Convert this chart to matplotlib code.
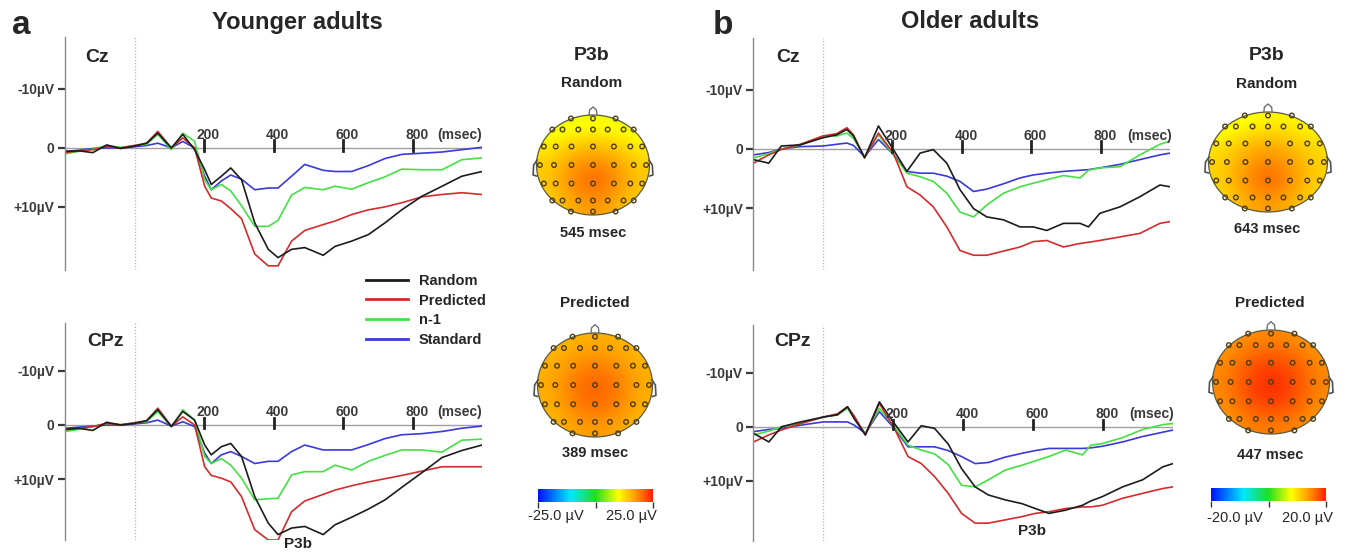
import matplotlib
matplotlib.use("Agg")
import matplotlib.pyplot as plt
import numpy as np
from matplotlib.colors import LinearSegmentedColormap, Normalize
from matplotlib.cm import ScalarMappable
from matplotlib.patches import Circle
from matplotlib.lines import Line2D

plt.rcParams["font.family"] = ["Liberation Sans", "DejaVu Sans"]

W, H = 1351, 553

# ---- ERP waveforms (ms, µV; positive plotted downward) ----
t_young = [-200, -160, -120, -80, -40, 0, 35, 67, 106, 139, 173, 202, 221, 250, 277,
           308, 346, 385, 413, 452, 490, 543, 577, 625, 673, 721, 769, 827, 885, 942, 1000]
young_cz_random = [0.6, 0.5, 0.8, -0.5, 0.1, -0.3, -0.8, -2.5, 0.0, -2.3, 0.3, 3.7, 6.2, 4.8, 3.4,
                   5.4, 12.7, 17.2, 18.6, 17.2, 16.9, 18.2, 16.7, 15.8, 14.7, 12.7, 10.5, 8.2, 6.5, 4.8, 4.0]
young_cz_predicted = [0.8, 0.5, 0.3, -0.2, 0.0, -0.4, -0.8, -2.8, 0.0, -1.7, 0.0, 6.5, 8.5, 9.0, 10.3,
                      12.0, 18.0, 20.0, 20.0, 15.8, 14.0, 13.0, 12.4, 11.3, 10.5, 10.0, 9.3, 8.3, 7.9, 7.6, 7.9]
young_cz_n1 = [1.0, 0.6, 0.2, -0.4, -0.1, -0.4, -0.6, -2.3, 0.3, -2.5, -1.1, 5.4, 7.1, 6.2, 7.3,
               9.8, 13.3, 13.3, 12.3, 8.0, 6.7, 7.1, 6.5, 7.0, 5.9, 4.9, 3.6, 3.7, 3.7, 2.0, 1.7]
young_cz_standard = [0.6, 0.4, 0.1, 0.0, 0.0, -0.2, -0.4, -0.8, 0.0, -1.1, 0.0, 4.8, 7.1, 5.6, 4.6,
                     5.3, 7.1, 6.8, 6.8, 4.8, 2.8, 3.8, 4.0, 4.0, 3.0, 1.8, 1.1, 0.9, 0.7, 0.3, -0.1]

young_cpz_random = [0.8, 0.6, 1.0, -0.5, 0.0, -0.3, -0.8, -2.8, 0.3, -2.5, -0.9, 3.7, 5.5, 4.0, 3.4,
                    5.8, 13.2, 18.1, 20.2, 19.0, 18.7, 20.2, 18.4, 17.0, 15.5, 13.8, 11.5, 8.8, 6.0, 4.7, 3.7]
young_cpz_predicted = [0.9, 0.6, 0.3, -0.3, 0.0, -0.4, -0.8, -3.1, 0.2, -1.5, 0.0, 7.7, 9.3, 9.8, 10.5,
                       13.2, 19.3, 21.2, 21.2, 16.0, 14.0, 12.8, 12.0, 11.2, 10.5, 9.9, 9.3, 8.5, 7.7, 7.7, 7.7]
young_cpz_n1 = [1.2, 0.8, 0.3, -0.3, -0.1, -0.4, -0.6, -2.5, 0.3, -2.8, -0.9, 5.8, 7.1, 6.2, 7.4,
                9.8, 13.8, 13.6, 13.5, 9.2, 8.6, 8.6, 7.4, 8.3, 6.7, 5.6, 4.6, 4.6, 5.0, 2.8, 2.6]
young_cpz_standard = [0.6, 0.4, 0.2, 0.0, 0.0, -0.2, -0.4, -0.9, 0.2, -0.6, 0.3, 5.2, 7.1, 5.5, 4.9,
                      5.8, 7.1, 6.7, 6.7, 4.9, 3.7, 4.6, 4.6, 4.6, 3.6, 2.5, 1.8, 1.6, 1.2, 0.6, 0.2]

t_old = [-200, -156, -120, -65, 0, 40, 69, 88, 120, 160, 203, 242, 280, 318, 357,
         395, 434, 472, 520, 568, 606, 645, 693, 741, 765, 798, 856, 913, 971, 1000]
old_cz_random = [1.8, 2.4, -0.5, -0.7, -1.9, -2.4, -3.3, -2.2, 1.5, -3.9, 0.1, 3.8, 0.7, 0.1, 2.4,
                 6.9, 10.1, 11.5, 12.0, 13.2, 13.2, 13.8, 12.6, 12.6, 13.2, 10.9, 9.8, 8.1, 6.1, 6.4]
old_cz_predicted = [2.4, 1.0, 0.1, -0.8, -2.2, -2.6, -3.6, -2.4, 1.5, -2.7, 0.7, 6.4, 7.8, 9.8, 13.2,
                    17.2, 18.0, 18.0, 17.3, 16.6, 15.7, 15.5, 16.6, 16.0, 15.8, 15.5, 14.9, 14.3, 12.6, 12.3]
old_cz_n1 = [1.5, 0.8, 0.0, -0.7, -2.2, -2.2, -2.7, -1.8, 1.3, -2.4, 1.0, 4.1, 4.7, 5.5, 7.5,
             10.7, 11.5, 9.5, 7.5, 6.4, 5.8, 5.2, 4.5, 4.9, 3.6, 3.2, 3.0, 1.0, -0.8, -1.3]
old_cz_standard = [1.0, 0.6, 0.0, -0.4, -0.5, -0.8, -1.0, -0.6, 1.3, -1.6, 0.9, 3.8, 4.1, 4.1, 4.6,
                   5.5, 7.2, 6.8, 5.9, 4.9, 4.4, 4.1, 3.8, 3.6, 3.5, 3.2, 2.6, 1.8, 1.0, 0.7]

old_cpz_random = [1.2, 2.8, 0.0, -0.9, -1.8, -2.2, -3.7, -1.5, 1.5, -4.6, -0.6, 2.8, -0.2, 0.3, 3.2,
                  7.7, 11.1, 12.6, 13.5, 14.2, 15.1, 16.0, 15.4, 14.5, 13.7, 12.9, 11.1, 9.8, 7.4, 6.8]
old_cpz_predicted = [2.8, 1.5, 0.6, -0.6, -1.8, -2.4, -3.7, -2.0, 1.5, -4.3, 0.3, 5.5, 6.8, 9.2, 12.3,
                     16.0, 17.8, 17.8, 17.2, 16.6, 16.0, 15.7, 15.1, 14.8, 14.8, 14.5, 13.2, 12.3, 11.4, 11.1]
old_cpz_n1 = [1.5, 0.8, 0.0, -0.6, -1.8, -2.2, -3.4, -1.6, 1.2, -3.4, 0.0, 3.4, 4.3, 5.0, 7.0,
              10.8, 11.1, 9.8, 8.0, 7.1, 6.3, 5.5, 4.3, 5.2, 3.4, 3.1, 2.0, 0.5, -0.4, -0.6]
old_cpz_standard = [0.9, 0.5, 0.3, -0.3, -0.9, -0.9, -0.9, -0.3, 1.2, -2.8, 0.3, 3.7, 3.7, 3.7, 4.4,
                    5.5, 6.8, 6.6, 5.6, 4.9, 4.4, 4.0, 4.0, 4.0, 3.9, 3.6, 2.8, 1.8, 1.0, 0.6]

conditions = ["Random", "Predicted", "n-1", "Standard"]
cond_colors = {"Random": "#1c1c1c", "Predicted": "#d22c2c", "n-1": "#44e044", "Standard": "#3a3ad6"}
time_ticks = [200, 400, 600, 800]

# ---- topographic maps (µV on a coarse 5x5 grid, front at top) ----
topo_young_random = [[8, 9, 9.5, 9, 8],
                     [11, 13.5, 14.5, 13.5, 11],
                     [13.5, 17.5, 19.5, 17.5, 13.5],
                     [14, 18.5, 21, 18.5, 14],
                     [12.5, 16, 17.5, 16, 12.5]]
topo_young_predicted = [[14.5, 15.5, 16, 15.5, 14.5],
                        [15.5, 18, 19, 18, 15.5],
                        [16, 19.5, 21.5, 19.5, 16],
                        [15.5, 19, 20.5, 19, 15.5],
                        [14.5, 16.5, 17.5, 16.5, 14.5]]
topo_old_random = [[6.5, 7.5, 8.5, 8.5, 7.5],
                   [9, 11.5, 12.5, 11.5, 9.5],
                   [10.5, 13.5, 15.5, 13.5, 10.5],
                   [10.5, 14.5, 17, 14.5, 10.5],
                   [9.5, 12.5, 14, 12.5, 9.5]]
topo_old_predicted = [[13.5, 14.5, 15, 14.5, 13.5],
                      [14.5, 17, 18, 17, 14.5],
                      [15, 18, 20, 18, 15],
                      [14.5, 17.5, 19, 17.5, 14.5],
                      [13.5, 15, 15.5, 15, 13.5]]

elec_rows_y = [0.93, 0.71, 0.37, 0.0, -0.37, -0.71, -0.93]
elec_rows_x = [[-0.39, 0, 0.4],
               [-0.72, -0.54, -0.26, 0, 0.26, 0.54, 0.72],
               [-0.87, -0.66, -0.38, 0, 0.37, 0.66, 0.87],
               [-0.94, -0.69, -0.38, 0, 0.37, 0.72, 0.94],
               [-0.87, -0.66, -0.38, 0, 0.37, 0.66, 0.87],
               [-0.72, -0.54, -0.26, 0, 0.26, 0.54, 0.72],
               [-0.39, 0, 0.4]]

topo_cmap = LinearSegmentedColormap.from_list(
    "erp", [(0.0, "#0010ff"), (0.28, "#00e8ff"), (0.5, "#22dd22"),
            (0.7, "#ffff00"), (0.85, "#ff9a00"), (1.0, "#ff2000")])

TXT = "#262626"
fig = plt.figure(figsize=(W / 100, H / 100), dpi=100)


def px_axes(left, top, right, bottom):
    return fig.add_axes([left / W, 1 - bottom / H, (right - left) / W, (bottom - top) / H])


def ftext(x, y, s, size=10, weight="bold", ha="center", **kw):
    fig.text(x / W, 1 - y / H, s, fontsize=size, fontweight=weight, ha=ha, va="center",
             color=TXT, **kw)


def erp_panel(box, ylim, t, series, msec_x):
    ax = px_axes(*box)
    ax.patch.set_alpha(0)
    ax.set_xlim(-200, 1000)
    ax.set_ylim(*ylim)
    for s in ["top", "right", "bottom"]:
        ax.spines[s].set_visible(False)
    ax.spines["left"].set_color("#8a8a8a")
    ax.spines["left"].set_linewidth(1.0)
    ax.axhline(0, color="#a0a0a0", lw=1.0)
    ax.axvline(0, color="#b4b4b4", lw=0.9, ls=(0, (1, 1.5)))
    lines = {}
    for name in ["Standard", "n-1", "Predicted", "Random"]:
        lines[name], = ax.plot(t, series[name], color=cond_colors[name], lw=1.2)
    ax.set_xticks([])
    ax.set_yticks([-10, 0, 10])
    ax.set_yticklabels(["-10µV", "0", "+10µV"], fontweight="bold", color="#3a3a3a")
    ax.tick_params(axis="y", direction="out", length=5, width=1.6, color="#3a3a3a",
                   labelsize=10, pad=2.5)
    for tx in time_ticks:
        ax.plot([tx, tx], [-1.3, 0.5], color="#222222", lw=2)
        ax.annotate(str(tx), (tx, 0), xytext=(3, 4), textcoords="offset points",
                    ha="center", va="bottom", fontsize=10, fontweight="bold", color="#3a3a3a")
    ax.annotate("(msec)", (msec_x, 0), xytext=(0, 4), textcoords="offset points",
                ha="left", va="bottom", fontsize=10, fontweight="bold", color="#3a3a3a")
    return lines


def topo(cx, cy, rx, ry, grid, vlim):
    m = 1.3
    ax = px_axes(cx - m * rx, cy - m * ry, cx + m * rx, cy + m * ry)
    ax.set_xlim(-m, m)
    ax.set_ylim(-m, m)
    ax.axis("off")
    im = ax.imshow(np.array(grid), extent=(-1, 1, -1, 1), origin="upper", cmap=topo_cmap,
                   vmin=-vlim, vmax=vlim, interpolation="bicubic", aspect="auto")
    head = Circle((0, 0), 1.0, transform=ax.transData)
    im.set_clip_path(head)
    ax.add_patch(Circle((0, 0), 1.0, fc="none", ec="#5a5a40", lw=0.9))
    ax.plot([-0.07, -0.06, 0.0, 0.06, 0.07], [0.99, 1.1, 1.16, 1.1, 0.99], color="#707070", lw=1.0)
    for sgn in (-1, 1):
        ax.plot([sgn * 0.99, sgn * 1.05, sgn * 1.06, sgn * 1.0],
                [0.1, 0.0, -0.2, -0.22], color="#505050", lw=1.2)
    for ry_, xs in zip(elec_rows_y, elec_rows_x):
        ax.scatter(xs, [ry_] * len(xs), s=11, facecolors="none", edgecolors="#4e3e16",
                   linewidths=1.0, zorder=3)


def cbar(left, top, right, bottom, vlim):
    cax = px_axes(left, top, right, bottom)
    cb = fig.colorbar(ScalarMappable(Normalize(-vlim, vlim), topo_cmap), cax=cax,
                      orientation="horizontal", ticks=[-vlim, 0, vlim])
    cb.outline.set_visible(False)
    cb.set_ticklabels(["", "", ""])
    cax.tick_params(length=4, width=1.0, color="#333333")


# ERP panels
young_cz = {"Random": young_cz_random, "Predicted": young_cz_predicted,
            "n-1": young_cz_n1, "Standard": young_cz_standard}
young_cpz = {"Random": young_cpz_random, "Predicted": young_cpz_predicted,
             "n-1": young_cpz_n1, "Standard": young_cpz_standard}
old_cz = {"Random": old_cz_random, "Predicted": old_cz_predicted,
          "n-1": old_cz_n1, "Standard": old_cz_standard}
old_cpz = {"Random": old_cpz_random, "Predicted": old_cpz_predicted,
           "n-1": old_cpz_n1, "Standard": old_cpz_standard}

erp_panel((65, 37, 482, 270), (20.7, -18.8), t_young, young_cz, 872)
erp_panel((65, 323, 482, 540), (21.2, -18.8), t_young, young_cpz, 872)
erp_panel((753.5, 38, 1170, 270), (20.5, -18.8), t_old, old_cz, 876)
erp_panel((753.5, 325, 1173, 541), (21.1, -18.8), t_old, old_cpz, 876)

handles = [Line2D([], [], color=cond_colors[c], lw=2) for c in conditions]
fig.legend(handles, conditions, loc="upper left", bbox_to_anchor=(366 / W, 1 - 274 / H),
           frameon=False, borderpad=0, borderaxespad=0, handlelength=2.9, handletextpad=0.7,
           labelspacing=0.38, prop={"size": 10.5, "weight": "bold"}, labelcolor=TXT)

# headings and labels
ftext(12, 26, "a", size=24, ha="left")
ftext(713, 26, "b", size=24, ha="left")
ftext(297, 22, "Younger adults", size=17)
ftext(970, 22, "Older adults", size=17)
ftext(85, 58, "Cz", size=14, ha="left")
ftext(87, 341, "CPz", size=14, ha="left")
ftext(776, 57, "Cz", size=14, ha="left")
ftext(774, 342, "CPz", size=14, ha="left")
ftext(298, 544, "P3b", size=11)
ftext(1032, 531, "P3b", size=11)

# topographies
topo(593, 165, 56.5, 50, topo_young_random, 25)
topo(595, 385, 57.5, 52, topo_young_predicted, 25)
topo(1268, 162, 59.5, 50, topo_old_random, 20)
topo(1271, 382, 58.5, 52, topo_old_predicted, 20)
cbar(538, 489, 653, 502, 25)
cbar(1211, 488, 1326, 501, 20)

ftext(592, 55, "P3b", size=14)
ftext(592, 83, "Random", size=11)
ftext(593, 233, "545 msec", size=10.5)
ftext(595, 303, "Predicted", size=11)
ftext(595, 453, "389 msec", size=10.5)
ftext(556, 516, "-25.0 µV", size=10.5, weight="normal")
ftext(631, 516, "25.0 µV", size=10.5, weight="normal")

ftext(1267, 55, "P3b", size=14)
ftext(1267, 84, "Random", size=11)
ftext(1267, 229, "643 msec", size=10.5)
ftext(1270, 303, "Predicted", size=11)
ftext(1270, 455, "447 msec", size=10.5)
ftext(1235, 518, "-20.0 µV", size=10.5, weight="normal")
ftext(1308, 518, "20.0 µV", size=10.5, weight="normal")

fig.savefig("out.png", dpi=100, facecolor="white")
